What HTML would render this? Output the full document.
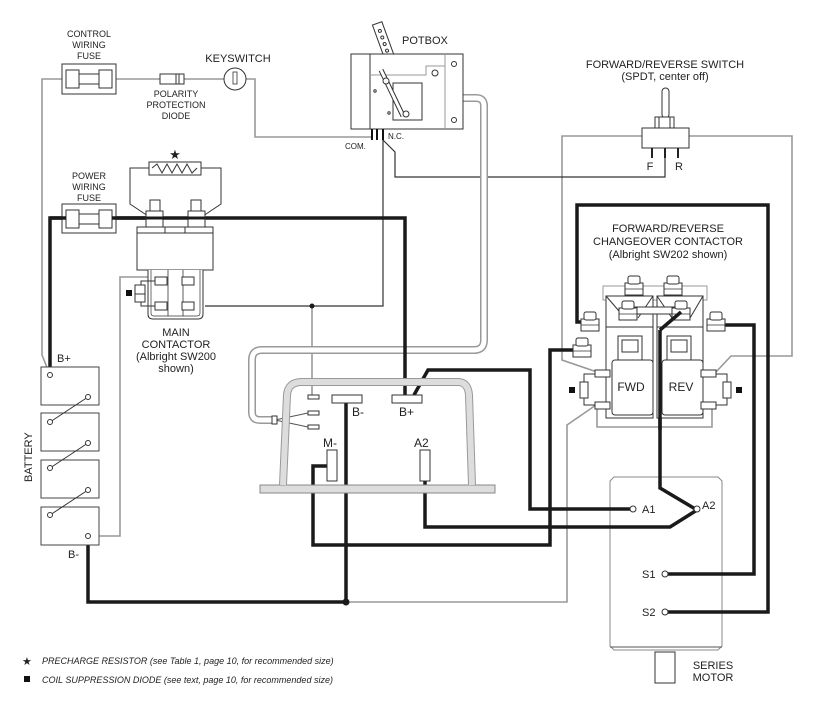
<!DOCTYPE html>
<html><head><meta charset="utf-8"><style>
html,body{margin:0;padding:0;background:#fff}
svg{display:block}
text{font-family:"Liberation Sans",Arial,sans-serif;fill:#222}
</style></head><body>
<svg width="813" height="715" viewBox="0 0 813 715" xmlns="http://www.w3.org/2000/svg">
<defs>
<g id="nut"><rect x="-9" y="-4" width="18" height="12" fill="#fff" stroke="#333" stroke-width="1"/><rect x="-6" y="-11" width="12" height="8" rx="2" fill="#fff" stroke="#333" stroke-width="1"/><line x1="-9" y1="2" x2="9" y2="2" stroke="#333" stroke-width="0.8"/></g>
</defs>
<!-- motor (behind wires) -->
<path d="M614,477 H718 L722,481 V646 L718,650 H614 L610,646 V481 Z" fill="none" stroke="#888"/>
<line x1="610" y1="647" x2="722" y2="647" stroke="#555"/>
<rect x="655" y="652" width="20" height="31" fill="#fff" stroke="#333"/>
<g fill="none" stroke-linejoin="miter">
<g stroke="#999" stroke-width="1.6">
<polyline points="62,79 42,79 42,355 50,375"/>
<polyline points="116,79 160,79"/>
<polyline points="184,79 224,79"/>
<polyline points="246,79 255,79 255,137 372,137"/>
<polyline points="148,277 120,277 120,536 90,536"/>
<polyline points="312,306 312,395"/>
<polyline points="652,148 652,136 562,136 562,360 597,372"/>
<polyline points="346,602 567,602 567,425 596,405"/>
<polyline points="678,148 678,136 792,136 792,356 731,356 716,372"/>
<polyline points="597,408 597,427 712,427 712,408"/>
</g>
<g stroke="#333" stroke-width="1.2">
<polyline points="205,306 383,306 383,140"/>
<polyline points="383,140 395,152 395,177 665,177 665,158"/>
</g>
<path d="M463,98 H476 Q484,98 484,106 V340 Q484,350 474,350 H262 Q252,350 252,360 V412 Q252,420 260,420 H275" stroke="#999" stroke-width="8"/>
<path d="M463,98 H476 Q484,98 484,106 V340 Q484,350 474,350 H262 Q252,350 252,360 V412 Q252,420 260,420 H275" stroke="#fff" stroke-width="5"/>
<line x1="275" y1="420" x2="308" y2="413" stroke="#555" stroke-width="1"/>
<line x1="275" y1="420" x2="308" y2="427" stroke="#555" stroke-width="1"/>
<g stroke="#1a1a1a" stroke-width="3.5">
<polyline points="50,375 50,218 405,218 405,395"/>
<polyline points="346,403 346,602 88,602 88,536"/>
<polyline points="327,466 313,466 313,545 550,545 550,350 580,350"/>
<polyline points="414,395 428,370 530,370 530,509 632,509"/>
<polyline points="425,481 425,527 670,527 697,510 660,488 660,330 681,312"/>
<polyline points="664,574 754,574 754,325 718,325"/>
<polyline points="664,612 768,612 768,205 577,205 577,322 590,322"/>
</g>
</g>
<circle cx="346" cy="602" r="3.5" fill="#1a1a1a"/>
<circle cx="312" cy="306" r="2.5" fill="#1a1a1a"/>

<rect x="62" y="64" width="54" height="30" fill="#fff" stroke="#333"/>
<rect x="66" y="70" width="13" height="18" fill="#fff" stroke="#333"/>
<rect x="99" y="70" width="13" height="18" fill="#fff" stroke="#333"/>
<line x1="79" y1="74" x2="99" y2="74" stroke="#333"/><line x1="79" y1="84" x2="99" y2="84" stroke="#333"/>
<rect x="160" y="74" width="24" height="10" fill="#fff" stroke="#333"/><line x1="176" y1="74" x2="176" y2="84" stroke="#333"/><line x1="179" y1="74" x2="179" y2="84" stroke="#333"/>
<circle cx="235" cy="79" r="11" fill="#fff" stroke="#333"/>
<rect x="233" y="72" width="4" height="12" fill="#fff" stroke="#333" stroke-width="0.8"/>
<rect x="62" y="204" width="54" height="29" fill="#fff" stroke="#333"/>
<rect x="66" y="210" width="13" height="18" fill="#fff" stroke="#333"/>
<rect x="99" y="210" width="13" height="18" fill="#fff" stroke="#333"/>
<line x1="79" y1="214" x2="99" y2="214" stroke="#333"/><line x1="79" y1="224" x2="99" y2="224" stroke="#333"/>
<line x1="50" y1="218" x2="66" y2="218" stroke="#1a1a1a" stroke-width="3.5"/><line x1="112" y1="218" x2="150" y2="218" stroke="#1a1a1a" stroke-width="3.5"/>

<text x="175" y="159" font-size="13" text-anchor="middle">★</text>
<rect x="149" y="162" width="52" height="13" fill="#fff" stroke="#333"/>
<polyline points="152,168 157,164 162,173 167,164 172,173 177,164 182,173 187,164 192,173 197,168" fill="none" stroke="#333"/>
<polyline points="149,168 130,168 130,204 148,216" fill="none" stroke="#333"/>
<polyline points="201,168 221,168 221,204 203,216" fill="none" stroke="#333"/>
<rect x="150" y="200" width="10" height="13" fill="#fff" stroke="#333"/>
<rect x="191" y="200" width="10" height="13" fill="#fff" stroke="#333"/>
<rect x="146" y="211" width="17" height="16" fill="#fff" stroke="#333"/>
<rect x="188" y="211" width="17" height="16" fill="#fff" stroke="#333"/>
<line x1="146" y1="218" x2="205" y2="218" stroke="#1a1a1a" stroke-width="3"/>
<rect x="137" y="227" width="76" height="43" fill="#fff" stroke="#333"/>
<line x1="137" y1="233" x2="213" y2="233" stroke="#333"/>
<line x1="165" y1="227" x2="165" y2="233" stroke="#333"/><line x1="185" y1="227" x2="185" y2="233" stroke="#333"/>
<path d="M148,270 V314 Q148,319 153,319 H198 Q203,319 203,314 V270" fill="#fff" stroke="#333"/>
<path d="M151,270 V313 Q151,316 154,316 H197 Q200,316 200,313 V270" fill="none" stroke="#333" stroke-width="0.7"/>
<line x1="168" y1="270" x2="168" y2="316" stroke="#333" stroke-width="0.8"/><line x1="183" y1="270" x2="183" y2="316" stroke="#333" stroke-width="0.8"/>
<rect x="155" y="277" width="12" height="8" fill="#fff" stroke="#333"/><rect x="182" y="277" width="12" height="8" fill="#fff" stroke="#333"/>
<rect x="155" y="302" width="12" height="8" fill="#fff" stroke="#333"/><rect x="182" y="302" width="12" height="8" fill="#fff" stroke="#333"/>
<polyline points="155,281 141,281 141,286" fill="none" stroke="#333"/>
<polyline points="155,306 141,306 141,302" fill="none" stroke="#333"/>
<rect x="135" y="285" width="10" height="17" fill="#fff" stroke="#333"/><line x1="135" y1="294" x2="145" y2="294" stroke="#333"/>
<rect x="126" y="290" width="6" height="6" fill="#111"/>
<text x="176" y="336" font-size="11" text-anchor="middle">MAIN</text>
<text x="176" y="348" font-size="11" text-anchor="middle">CONTACTOR</text>
<text x="176" y="360" font-size="11" text-anchor="middle">(Albright SW200</text>
<text x="176" y="372" font-size="11" text-anchor="middle">shown)</text>

<g transform="rotate(-20 385 45)"><rect x="380" y="22" width="10" height="48" fill="#fff" stroke="#333"/>
<circle cx="385" cy="30" r="1.5" fill="none" stroke="#333"/><circle cx="385" cy="37" r="1.5" fill="none" stroke="#333"/><circle cx="385" cy="44" r="1.5" fill="none" stroke="#333"/><circle cx="385" cy="51" r="1.5" fill="none" stroke="#333"/><circle cx="385" cy="58" r="1.5" fill="none" stroke="#333"/></g>
<rect x="351" y="54" width="112" height="75" fill="#fff" stroke="#333"/>
<line x1="370" y1="54" x2="370" y2="129" stroke="#333"/>
<line x1="445" y1="54" x2="445" y2="129" stroke="#999"/>
<polyline points="370,75 426,75 426,66 445,66" fill="none" stroke="#999"/>
<rect x="393" y="83" width="29" height="37" fill="#fff" stroke="#333"/>
<line x1="381" y1="70" x2="403" y2="116" stroke="#333" stroke-width="5"/><line x1="381" y1="70" x2="403" y2="116" stroke="#fff" stroke-width="3"/>
<circle cx="386" cy="81" r="3" fill="#fff" stroke="#333"/><circle cx="435" cy="73" r="3" fill="#fff" stroke="#333"/><circle cx="406" cy="114" r="3" fill="#fff" stroke="#333"/>
<circle cx="454" cy="64" r="2.5" fill="none" stroke="#333"/><circle cx="454" cy="120" r="2.5" fill="none" stroke="#333"/>
<circle cx="375" cy="91" r="1.2" fill="none" stroke="#333"/><circle cx="389" cy="113" r="1.2" fill="none" stroke="#333"/>
<g stroke="#111" stroke-width="2"><line x1="372" y1="129" x2="372" y2="140"/><line x1="377" y1="129" x2="377" y2="140"/><line x1="383" y1="129" x2="383" y2="140"/></g>
<text x="402" y="44" font-size="11">POTBOX</text>
<text x="388" y="139" font-size="8">N.C.</text>
<text x="345" y="149" font-size="8">COM.</text>

<rect x="662" y="88" width="7" height="30" rx="3.5" fill="#fff" stroke="#333"/>
<rect x="655" y="117" width="19" height="11" fill="#fff" stroke="#333"/><line x1="659" y1="117" x2="659" y2="128" stroke="#333"/><line x1="670" y1="117" x2="670" y2="128" stroke="#333"/>
<rect x="642" y="128" width="47" height="20" fill="#fff" stroke="#333"/>
<g stroke="#222" stroke-width="2"><line x1="652" y1="148" x2="652" y2="158"/><line x1="665" y1="148" x2="665" y2="158"/><line x1="678" y1="148" x2="678" y2="158"/></g>
<text x="650" y="170" font-size="11" text-anchor="middle">F</text>
<text x="679" y="170" font-size="11" text-anchor="middle">R</text>
<text x="665" y="68" font-size="11" text-anchor="middle">FORWARD/REVERSE SWITCH</text>
<text x="665" y="80" font-size="11" text-anchor="middle">(SPDT, center off)</text>

<text x="668" y="232" font-size="11" text-anchor="middle">FORWARD/REVERSE</text>
<text x="668" y="245" font-size="11" text-anchor="middle">CHANGEOVER CONTACTOR</text>
<text x="668" y="258" font-size="11" text-anchor="middle">(Albright SW202 shown)</text>
<rect x="603" y="286" width="104" height="14" fill="#fff" stroke="#999"/>
<polygon points="606,296 653,296 653,327 606,327" fill="#fff" stroke="#333"/>
<polygon points="657,296 703,296 703,327 657,327" fill="#fff" stroke="#333"/>
<line x1="606" y1="296" x2="625" y2="318" stroke="#333"/><line x1="653" y1="296" x2="638" y2="318" stroke="#333"/>
<line x1="657" y1="296" x2="672" y2="318" stroke="#333"/><line x1="703" y1="296" x2="690" y2="318" stroke="#333"/>
<rect x="606" y="327" width="47" height="91" fill="#fff" stroke="#333"/>
<rect x="657" y="327" width="46" height="91" fill="#fff" stroke="#333"/>
<rect x="618" y="336" width="24" height="24" fill="#fff" stroke="#333"/><rect x="622" y="340" width="16" height="12" fill="#fff" stroke="#333"/>
<rect x="667" y="336" width="24" height="24" fill="#fff" stroke="#333"/><rect x="671" y="340" width="16" height="12" fill="#fff" stroke="#333"/>
<rect x="612" y="360" width="41" height="55" rx="3" fill="#fff" stroke="#333"/>
<rect x="662" y="360" width="41" height="55" rx="3" fill="#fff" stroke="#333"/>
<text x="631" y="391" font-size="12" text-anchor="middle">FWD</text>
<text x="681" y="391" font-size="12" text-anchor="middle">REV</text>
<rect x="627" y="307" width="56" height="7" fill="#fff" stroke="#333"/>
<use href="#nut" x="634" y="287"/><use href="#nut" x="673" y="287"/>
<use href="#nut" x="628" y="312"/><use href="#nut" x="681" y="312"/>
<use href="#nut" x="590" y="323"/><use href="#nut" x="716" y="323"/>
<use href="#nut" x="582" y="349"/>
<line x1="660" y1="330" x2="681" y2="312" stroke="#1a1a1a" stroke-width="3.5"/>
<line x1="660" y1="330" x2="660" y2="430" stroke="#1a1a1a" stroke-width="3.5"/>
<rect x="595" y="370" width="15" height="7" fill="#fff" stroke="#333"/><rect x="595" y="402" width="15" height="7" fill="#fff" stroke="#333"/>
<rect x="701" y="370" width="15" height="7" fill="#fff" stroke="#333"/><rect x="701" y="402" width="15" height="7" fill="#fff" stroke="#333"/>
<polyline points="595,374 584,374 584,405 595,405" fill="none" stroke="#333"/>
<polyline points="716,374 727,374 727,405 716,405" fill="none" stroke="#333"/>
<rect x="580" y="382" width="8" height="16" fill="#fff" stroke="#333"/><rect x="723" y="382" width="8" height="16" fill="#fff" stroke="#333"/>
<rect x="569" y="387" width="6" height="6" fill="#111"/><rect x="736" y="387" width="6" height="6" fill="#111"/>

<rect x="260" y="485" width="235" height="8" fill="#ddd" stroke="#888"/>
<path d="M283,485 L287,395 Q288,382 302,382 H458 Q468,382 469,395 L472,485" fill="none" stroke="#999" stroke-width="8"/>
<path d="M283,485 L287,395 Q288,382 302,382 H458 Q468,382 469,395 L472,485" fill="none" stroke="#ddd" stroke-width="6"/>
<rect x="308" y="395" width="11" height="4" fill="#fff" stroke="#333"/>
<rect x="308" y="411" width="11" height="4" fill="#fff" stroke="#333"/>
<rect x="308" y="425" width="11" height="4" fill="#fff" stroke="#333"/>
<rect x="332" y="395" width="30" height="8" fill="#fff" stroke="#333"/>
<rect x="392" y="395" width="30" height="8" fill="#fff" stroke="#333"/>
<rect x="327" y="450" width="10" height="31" fill="#fff" stroke="#333"/>
<rect x="420" y="450" width="10" height="31" fill="#fff" stroke="#333"/>
<text x="352" y="416" font-size="12">B-</text>
<text x="399" y="416" font-size="12">B+</text>
<text x="323" y="447" font-size="12">M-</text>
<text x="414" y="447" font-size="12">A2</text>
<rect x="272" y="416" width="5" height="8" fill="#fff" stroke="#333"/>

<g fill="#fff" stroke="#444">
<rect x="41" y="367" width="58" height="38"/><rect x="41" y="413" width="58" height="38"/>
<rect x="41" y="460" width="58" height="38"/><rect x="41" y="507" width="58" height="38"/>
</g>
<g stroke="#333" fill="none"><line x1="50" y1="422" x2="88" y2="397"/><line x1="50" y1="468" x2="88" y2="443"/><line x1="50" y1="515" x2="88" y2="490"/></g>
<g fill="#fff" stroke="#333"><circle cx="50" cy="375" r="2.5"/><circle cx="88" cy="397" r="2.5"/><circle cx="50" cy="422" r="2.5"/><circle cx="88" cy="443" r="2.5"/><circle cx="50" cy="468" r="2.5"/><circle cx="88" cy="490" r="2.5"/><circle cx="50" cy="515" r="2.5"/><circle cx="88" cy="536" r="2.5"/></g>
<text x="57" y="362" font-size="11">B+</text>
<text x="68" y="558" font-size="11">B-</text>
<text x="0" y="0" font-size="11" transform="translate(32,482) rotate(-90)">BATTERY</text>

<g fill="#fff" stroke="#333"><circle cx="633" cy="509" r="3"/><circle cx="697" cy="509" r="3"/><circle cx="665" cy="574" r="3"/><circle cx="665" cy="612" r="3"/></g>
<text x="642" y="513" font-size="11">A1</text>
<text x="702" y="509" font-size="11">A2</text>
<text x="642" y="578" font-size="11">S1</text>
<text x="642" y="616" font-size="11">S2</text>
<text x="713" y="669" font-size="11" text-anchor="middle">SERIES</text>
<text x="713" y="681" font-size="11" text-anchor="middle">MOTOR</text>

<g font-size="9" text-anchor="middle">
<text x="89" y="37">CONTROL</text><text x="89" y="48">WIRING</text><text x="89" y="59">FUSE</text>
<text x="89" y="179">POWER</text><text x="89" y="190">WIRING</text><text x="89" y="201">FUSE</text>
<text x="176" y="97">POLARITY</text><text x="176" y="108">PROTECTION</text><text x="176" y="119">DIODE</text>
</g>
<text x="238" y="62" font-size="11" text-anchor="middle">KEYSWITCH</text>

<text x="22" y="665" font-size="11">★</text>
<text x="42" y="664" font-size="9" font-style="italic">PRECHARGE RESISTOR (see Table 1, page 10, for recommended size)</text>
<rect x="24" y="676" width="6" height="6" fill="#111"/>
<text x="42" y="683" font-size="9" font-style="italic">COIL SUPPRESSION DIODE (see text, page 10, for recommended size)</text>
</svg>
</body></html>
